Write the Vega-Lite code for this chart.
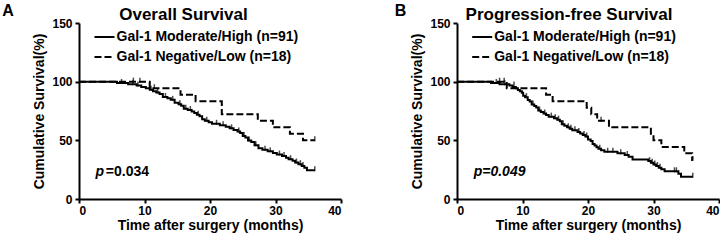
{
  "$schema": "https://vega.github.io/schema/vega-lite/v6.json",
  "padding": {"left": 2, "top": 3, "right": 0, "bottom": 2},
  "bounds": "flush",
  "spacing": 116,
  "background": "white",
  "config": {
    "view": {"stroke": null},
    "font": "Liberation Sans",
    "axis": {
      "domainColor": "black", "domainWidth": 2, "tickColor": "black", "tickWidth": 2, "tickSize": 4,
      "labelFont": "Liberation Sans", "labelFontSize": 12, "labelFontWeight": "bold", "labelColor": "black", "labelPadding": 2,
      "titleFont": "Liberation Sans", "titleFontSize": 14, "titleFontWeight": "bold", "titleColor": "black", "grid": false
    },
    "axisY": {"labelPadding": 3},
    "legend": {
      "labelFont": "Liberation Sans", "labelFontSize": 14, "labelFontWeight": "bold", "labelColor": "black", "labelLimit": 0
    }
  },
  "datasets": {
    "curvesA": [
      {"g": "Gal-1 Moderate/High (n=91)", "t": 0, "s": 100},
      {"g": "Gal-1 Moderate/High (n=91)", "t": 5.8, "s": 98.9},
      {"g": "Gal-1 Moderate/High (n=91)", "t": 7.5, "s": 97.8},
      {"g": "Gal-1 Moderate/High (n=91)", "t": 8.8, "s": 96.7},
      {"g": "Gal-1 Moderate/High (n=91)", "t": 9.5, "s": 95.5},
      {"g": "Gal-1 Moderate/High (n=91)", "t": 10.2, "s": 94.3},
      {"g": "Gal-1 Moderate/High (n=91)", "t": 10.8, "s": 93.1},
      {"g": "Gal-1 Moderate/High (n=91)", "t": 11.3, "s": 91.9},
      {"g": "Gal-1 Moderate/High (n=91)", "t": 11.8, "s": 90.7},
      {"g": "Gal-1 Moderate/High (n=91)", "t": 12.3, "s": 89.5},
      {"g": "Gal-1 Moderate/High (n=91)", "t": 12.8, "s": 87.0},
      {"g": "Gal-1 Moderate/High (n=91)", "t": 13.5, "s": 85.8},
      {"g": "Gal-1 Moderate/High (n=91)", "t": 14.0, "s": 84.5},
      {"g": "Gal-1 Moderate/High (n=91)", "t": 14.6, "s": 82.0},
      {"g": "Gal-1 Moderate/High (n=91)", "t": 15.2, "s": 80.8},
      {"g": "Gal-1 Moderate/High (n=91)", "t": 15.6, "s": 79.5},
      {"g": "Gal-1 Moderate/High (n=91)", "t": 16.0, "s": 77.0},
      {"g": "Gal-1 Moderate/High (n=91)", "t": 16.6, "s": 75.8},
      {"g": "Gal-1 Moderate/High (n=91)", "t": 17.2, "s": 74.5},
      {"g": "Gal-1 Moderate/High (n=91)", "t": 17.6, "s": 73.2},
      {"g": "Gal-1 Moderate/High (n=91)", "t": 18.0, "s": 71.9},
      {"g": "Gal-1 Moderate/High (n=91)", "t": 18.4, "s": 70.6},
      {"g": "Gal-1 Moderate/High (n=91)", "t": 18.8, "s": 68.0},
      {"g": "Gal-1 Moderate/High (n=91)", "t": 19.2, "s": 66.7},
      {"g": "Gal-1 Moderate/High (n=91)", "t": 19.8, "s": 65.4},
      {"g": "Gal-1 Moderate/High (n=91)", "t": 20.3, "s": 64.1},
      {"g": "Gal-1 Moderate/High (n=91)", "t": 21.5, "s": 62.8},
      {"g": "Gal-1 Moderate/High (n=91)", "t": 22.4, "s": 61.5},
      {"g": "Gal-1 Moderate/High (n=91)", "t": 23.0, "s": 60.2},
      {"g": "Gal-1 Moderate/High (n=91)", "t": 23.6, "s": 58.9},
      {"g": "Gal-1 Moderate/High (n=91)", "t": 24.2, "s": 57.6},
      {"g": "Gal-1 Moderate/High (n=91)", "t": 24.6, "s": 56.3},
      {"g": "Gal-1 Moderate/High (n=91)", "t": 25.0, "s": 53.7},
      {"g": "Gal-1 Moderate/High (n=91)", "t": 25.4, "s": 52.4},
      {"g": "Gal-1 Moderate/High (n=91)", "t": 25.8, "s": 49.8},
      {"g": "Gal-1 Moderate/High (n=91)", "t": 26.3, "s": 48.5},
      {"g": "Gal-1 Moderate/High (n=91)", "t": 26.8, "s": 45.9},
      {"g": "Gal-1 Moderate/High (n=91)", "t": 27.4, "s": 43.2},
      {"g": "Gal-1 Moderate/High (n=91)", "t": 28.0, "s": 41.9},
      {"g": "Gal-1 Moderate/High (n=91)", "t": 28.8, "s": 40.6},
      {"g": "Gal-1 Moderate/High (n=91)", "t": 29.6, "s": 39.3},
      {"g": "Gal-1 Moderate/High (n=91)", "t": 30.2, "s": 37.9},
      {"g": "Gal-1 Moderate/High (n=91)", "t": 31.0, "s": 36.6},
      {"g": "Gal-1 Moderate/High (n=91)", "t": 31.6, "s": 35.2},
      {"g": "Gal-1 Moderate/High (n=91)", "t": 32.0, "s": 33.9},
      {"g": "Gal-1 Moderate/High (n=91)", "t": 32.6, "s": 32.5},
      {"g": "Gal-1 Moderate/High (n=91)", "t": 33.0, "s": 31.1},
      {"g": "Gal-1 Moderate/High (n=91)", "t": 33.5, "s": 29.7},
      {"g": "Gal-1 Moderate/High (n=91)", "t": 34.0, "s": 28.2},
      {"g": "Gal-1 Moderate/High (n=91)", "t": 34.4, "s": 26.7},
      {"g": "Gal-1 Moderate/High (n=91)", "t": 34.8, "s": 24.4},
      {"g": "Gal-1 Moderate/High (n=91)", "t": 36.0, "s": 24.4},
      {"g": "Gal-1 Negative/Low (n=18)", "t": 0, "s": 100},
      {"g": "Gal-1 Negative/Low (n=18)", "t": 10.8, "s": 94.4},
      {"g": "Gal-1 Negative/Low (n=18)", "t": 15.5, "s": 88.9},
      {"g": "Gal-1 Negative/Low (n=18)", "t": 17.8, "s": 83.3},
      {"g": "Gal-1 Negative/Low (n=18)", "t": 21.8, "s": 72.2},
      {"g": "Gal-1 Negative/Low (n=18)", "t": 27.3, "s": 66.7},
      {"g": "Gal-1 Negative/Low (n=18)", "t": 29.6, "s": 61.1},
      {"g": "Gal-1 Negative/Low (n=18)", "t": 32.2, "s": 55.6},
      {"g": "Gal-1 Negative/Low (n=18)", "t": 34.2, "s": 50.0},
      {"g": "Gal-1 Negative/Low (n=18)", "t": 36.0, "s": 50.0}
    ],
    "censorA": [
      {"t": 6.5, "s": 98.9}, {"t": 8.2, "s": 97.8}, {"t": 9.0, "s": 96.7}, {"t": 11.0, "s": 93.1},
      {"t": 12.0, "s": 90.7}, {"t": 13.2, "s": 87.0}, {"t": 14.3, "s": 84.5}, {"t": 15.4, "s": 80.8},
      {"t": 16.3, "s": 77.0}, {"t": 17.0, "s": 75.8}, {"t": 18.2, "s": 71.9}, {"t": 19.5, "s": 66.7},
      {"t": 21.0, "s": 64.1}, {"t": 22.0, "s": 62.8}, {"t": 23.3, "s": 60.2}, {"t": 24.4, "s": 57.6},
      {"t": 25.2, "s": 53.7}, {"t": 26.0, "s": 49.8}, {"t": 27.0, "s": 45.9}, {"t": 28.4, "s": 41.9},
      {"t": 29.2, "s": 40.6}, {"t": 30.6, "s": 37.9}, {"t": 31.3, "s": 36.6}, {"t": 32.3, "s": 33.9},
      {"t": 33.2, "s": 31.1}, {"t": 33.8, "s": 29.7}, {"t": 34.2, "s": 28.2}, {"t": 36.0, "s": 24.4},
      {"t": 8.3, "s": 100}, {"t": 9.3, "s": 100}, {"t": 11.5, "s": 94.4}, {"t": 36.0, "s": 50.0}
    ],
    "curvesB": [
      {"g": "Gal-1 Moderate/High (n=91)", "t": 0, "s": 100},
      {"g": "Gal-1 Moderate/High (n=91)", "t": 5.2, "s": 98.9},
      {"g": "Gal-1 Moderate/High (n=91)", "t": 6.5, "s": 97.8},
      {"g": "Gal-1 Moderate/High (n=91)", "t": 8.0, "s": 96.7},
      {"g": "Gal-1 Moderate/High (n=91)", "t": 8.5, "s": 95.5},
      {"g": "Gal-1 Moderate/High (n=91)", "t": 9.0, "s": 94.3},
      {"g": "Gal-1 Moderate/High (n=91)", "t": 9.3, "s": 93.0},
      {"g": "Gal-1 Moderate/High (n=91)", "t": 9.6, "s": 91.8},
      {"g": "Gal-1 Moderate/High (n=91)", "t": 9.9, "s": 90.5},
      {"g": "Gal-1 Moderate/High (n=91)", "t": 10.1, "s": 88.0},
      {"g": "Gal-1 Moderate/High (n=91)", "t": 10.4, "s": 86.8},
      {"g": "Gal-1 Moderate/High (n=91)", "t": 10.8, "s": 84.3},
      {"g": "Gal-1 Moderate/High (n=91)", "t": 11.1, "s": 83.0},
      {"g": "Gal-1 Moderate/High (n=91)", "t": 11.4, "s": 80.5},
      {"g": "Gal-1 Moderate/High (n=91)", "t": 11.8, "s": 79.2},
      {"g": "Gal-1 Moderate/High (n=91)", "t": 12.1, "s": 77.9},
      {"g": "Gal-1 Moderate/High (n=91)", "t": 12.4, "s": 75.4},
      {"g": "Gal-1 Moderate/High (n=91)", "t": 12.8, "s": 74.1},
      {"g": "Gal-1 Moderate/High (n=91)", "t": 13.2, "s": 72.8},
      {"g": "Gal-1 Moderate/High (n=91)", "t": 13.6, "s": 71.5},
      {"g": "Gal-1 Moderate/High (n=91)", "t": 14.0, "s": 70.2},
      {"g": "Gal-1 Moderate/High (n=91)", "t": 14.8, "s": 68.9},
      {"g": "Gal-1 Moderate/High (n=91)", "t": 15.3, "s": 67.6},
      {"g": "Gal-1 Moderate/High (n=91)", "t": 15.7, "s": 66.3},
      {"g": "Gal-1 Moderate/High (n=91)", "t": 16.0, "s": 63.7},
      {"g": "Gal-1 Moderate/High (n=91)", "t": 16.4, "s": 62.4},
      {"g": "Gal-1 Moderate/High (n=91)", "t": 16.8, "s": 61.1},
      {"g": "Gal-1 Moderate/High (n=91)", "t": 17.2, "s": 59.8},
      {"g": "Gal-1 Moderate/High (n=91)", "t": 17.6, "s": 58.5},
      {"g": "Gal-1 Moderate/High (n=91)", "t": 18.4, "s": 57.2},
      {"g": "Gal-1 Moderate/High (n=91)", "t": 18.8, "s": 55.9},
      {"g": "Gal-1 Moderate/High (n=91)", "t": 19.2, "s": 54.6},
      {"g": "Gal-1 Moderate/High (n=91)", "t": 19.6, "s": 53.3},
      {"g": "Gal-1 Moderate/High (n=91)", "t": 20.0, "s": 50.7},
      {"g": "Gal-1 Moderate/High (n=91)", "t": 20.4, "s": 49.4},
      {"g": "Gal-1 Moderate/High (n=91)", "t": 20.7, "s": 46.8},
      {"g": "Gal-1 Moderate/High (n=91)", "t": 21.0, "s": 45.5},
      {"g": "Gal-1 Moderate/High (n=91)", "t": 21.3, "s": 44.2},
      {"g": "Gal-1 Moderate/High (n=91)", "t": 21.6, "s": 42.9},
      {"g": "Gal-1 Moderate/High (n=91)", "t": 22.0, "s": 41.6},
      {"g": "Gal-1 Moderate/High (n=91)", "t": 22.5, "s": 40.3},
      {"g": "Gal-1 Moderate/High (n=91)", "t": 24.5, "s": 38.9},
      {"g": "Gal-1 Moderate/High (n=91)", "t": 25.6, "s": 37.5},
      {"g": "Gal-1 Moderate/High (n=91)", "t": 26.2, "s": 36.1},
      {"g": "Gal-1 Moderate/High (n=91)", "t": 26.8, "s": 33.7},
      {"g": "Gal-1 Moderate/High (n=91)", "t": 29.2, "s": 32.3},
      {"g": "Gal-1 Moderate/High (n=91)", "t": 29.6, "s": 30.9},
      {"g": "Gal-1 Moderate/High (n=91)", "t": 30.0, "s": 29.5},
      {"g": "Gal-1 Moderate/High (n=91)", "t": 30.4, "s": 28.1},
      {"g": "Gal-1 Moderate/High (n=91)", "t": 30.8, "s": 26.7},
      {"g": "Gal-1 Moderate/High (n=91)", "t": 31.2, "s": 25.3},
      {"g": "Gal-1 Moderate/High (n=91)", "t": 31.7, "s": 23.6},
      {"g": "Gal-1 Moderate/High (n=91)", "t": 33.8, "s": 21.6},
      {"g": "Gal-1 Moderate/High (n=91)", "t": 34.2, "s": 18.9},
      {"g": "Gal-1 Moderate/High (n=91)", "t": 36.0, "s": 18.9},
      {"g": "Gal-1 Negative/Low (n=18)", "t": 0, "s": 100},
      {"g": "Gal-1 Negative/Low (n=18)", "t": 7.6, "s": 94.4},
      {"g": "Gal-1 Negative/Low (n=18)", "t": 13.6, "s": 88.9},
      {"g": "Gal-1 Negative/Low (n=18)", "t": 14.6, "s": 83.3},
      {"g": "Gal-1 Negative/Low (n=18)", "t": 19.8, "s": 77.8},
      {"g": "Gal-1 Negative/Low (n=18)", "t": 20.5, "s": 72.2},
      {"g": "Gal-1 Negative/Low (n=18)", "t": 21.4, "s": 66.7},
      {"g": "Gal-1 Negative/Low (n=18)", "t": 23.2, "s": 61.1},
      {"g": "Gal-1 Negative/Low (n=18)", "t": 29.6, "s": 55.6},
      {"g": "Gal-1 Negative/Low (n=18)", "t": 30.0, "s": 50.0},
      {"g": "Gal-1 Negative/Low (n=18)", "t": 31.2, "s": 44.4},
      {"g": "Gal-1 Negative/Low (n=18)", "t": 34.7, "s": 38.9},
      {"g": "Gal-1 Negative/Low (n=18)", "t": 35.9, "s": 33.3},
      {"g": "Gal-1 Negative/Low (n=18)", "t": 36.0, "s": 33.3}
    ],
    "censorB": [
      {"t": 6.0, "s": 98.9}, {"t": 7.3, "s": 97.8}, {"t": 8.7, "s": 96.7}, {"t": 10.6, "s": 86.8},
      {"t": 11.6, "s": 80.5}, {"t": 12.6, "s": 75.4}, {"t": 13.4, "s": 72.8}, {"t": 14.4, "s": 70.2},
      {"t": 15.0, "s": 68.9}, {"t": 15.5, "s": 67.6}, {"t": 16.2, "s": 63.7}, {"t": 17.0, "s": 61.1},
      {"t": 17.4, "s": 59.8}, {"t": 18.0, "s": 58.5}, {"t": 18.6, "s": 57.2}, {"t": 19.4, "s": 54.6},
      {"t": 19.8, "s": 53.3}, {"t": 21.8, "s": 42.9}, {"t": 23.0, "s": 40.3}, {"t": 23.8, "s": 40.3},
      {"t": 25.0, "s": 38.9}, {"t": 26.0, "s": 37.5}, {"t": 29.4, "s": 32.3}, {"t": 29.8, "s": 30.9},
      {"t": 30.2, "s": 29.5}, {"t": 30.6, "s": 28.1}, {"t": 31.0, "s": 26.7}, {"t": 33.2, "s": 23.6},
      {"t": 33.5, "s": 23.6}, {"t": 36.0, "s": 18.9},
      {"t": 6.5, "s": 100}, {"t": 7.2, "s": 100}, {"t": 22.0, "s": 66.7}, {"t": 36.0, "s": 33.3}
    ]
  },
  "hconcat": [
    {
      "width": 262, "height": 176,
      "layer": [
        {
          "data": {"name": "curvesA"},
          "mark": {"type": "line", "interpolate": "step-after", "strokeWidth": 2, "color": "black"},
          "encoding": {
            "x": {"field": "t", "type": "quantitative", "scale": {"domain": [0, 40], "nice": false}, "axis": {"values": [0, 10, 20, 30, 40], "title": "Time after surgery (months)", "titlePadding": 2}},
            "y": {"field": "s", "type": "quantitative", "scale": {"domain": [0, 150], "nice": false}, "axis": {"values": [0, 50, 100, 150], "title": "Cumulative Survival(%)", "titlePadding": 5}},
            "strokeDash": {"field": "g", "type": "nominal", "scale": {"domain": ["Gal-1 Moderate/High (n=91)", "Gal-1 Negative/Low (n=18)"], "range": [[1, 0], [7, 3]]},
              "legend": {"title": null, "orient": "none", "legendX": 14.5, "legendY": 3, "symbolType": "stroke", "symbolSize": 400, "symbolStrokeWidth": 2, "symbolStrokeColor": "black", "labelOffset": 1, "rowPadding": 2}}
          }
        },
        {
          "data": {"name": "censorA"},
          "mark": {"type": "tick", "orient": "vertical", "size": 5, "thickness": 1.5, "color": "black", "yOffset": -1.5},
          "encoding": {"x": {"field": "t", "type": "quantitative"}, "y": {"field": "s", "type": "quantitative"}}
        },
        {
          "data": {"values": [{"t": -11.7, "s": 155.7, "label": "A"}]},
          "mark": {"type": "text", "align": "left", "baseline": "alphabetic", "fontSize": 16, "fontWeight": "bold", "color": "black"},
          "encoding": {"x": {"field": "t", "type": "quantitative"}, "y": {"field": "s", "type": "quantitative"}, "text": {"field": "label"}}
        },
        {
          "data": {"values": [{"t": 15.95, "s": 152.8, "label": "Overall Survival"}]},
          "mark": {"type": "text", "align": "center", "baseline": "alphabetic", "fontSize": 17, "fontWeight": "bold", "color": "black"},
          "encoding": {"x": {"field": "t", "type": "quantitative"}, "y": {"field": "s", "type": "quantitative"}, "text": {"field": "label"}}
        },
        {
          "data": {"values": [{"t": 2.5, "s": 19.3, "label": "p"}]},
          "mark": {"type": "text", "align": "left", "baseline": "alphabetic", "fontSize": 14, "fontWeight": "bold", "fontStyle": "italic", "color": "black"},
          "encoding": {"x": {"field": "t", "type": "quantitative"}, "y": {"field": "s", "type": "quantitative"}, "text": {"field": "label"}}
        },
        {
          "data": {"values": [{"t": 4.1, "s": 19.3, "label": "=0.034"}]},
          "mark": {"type": "text", "align": "left", "baseline": "alphabetic", "fontSize": 14, "fontWeight": "bold", "color": "black"},
          "encoding": {"x": {"field": "t", "type": "quantitative"}, "y": {"field": "s", "type": "quantitative"}, "text": {"field": "label"}}
        }
      ]
    },
    {
      "width": 262, "height": 176,
      "layer": [
        {
          "data": {"name": "curvesB"},
          "mark": {"type": "line", "interpolate": "step-after", "strokeWidth": 2, "color": "black"},
          "encoding": {
            "x": {"field": "t", "type": "quantitative", "scale": {"domain": [0, 40], "nice": false}, "axis": {"values": [0, 10, 20, 30, 40], "title": "Time after surgery (months)", "titlePadding": 2}},
            "y": {"field": "s", "type": "quantitative", "scale": {"domain": [0, 150], "nice": false}, "axis": {"values": [0, 50, 100, 150], "title": "Cumulative Survival(%)", "titlePadding": 5}},
            "strokeDash": {"field": "g", "type": "nominal", "scale": {"domain": ["Gal-1 Moderate/High (n=91)", "Gal-1 Negative/Low (n=18)"], "range": [[1, 0], [7, 3]]},
              "legend": {"title": null, "orient": "none", "legendX": 14.2, "legendY": 3, "symbolType": "stroke", "symbolSize": 400, "symbolStrokeWidth": 2, "symbolStrokeColor": "black", "labelOffset": 1, "rowPadding": 2}}
          }
        },
        {
          "data": {"name": "censorB"},
          "mark": {"type": "tick", "orient": "vertical", "size": 5, "thickness": 1.5, "color": "black", "yOffset": -1.5},
          "encoding": {"x": {"field": "t", "type": "quantitative"}, "y": {"field": "s", "type": "quantitative"}}
        },
        {
          "data": {"values": [{"t": -9.5, "s": 155.7, "label": "B"}]},
          "mark": {"type": "text", "align": "left", "baseline": "alphabetic", "fontSize": 16, "fontWeight": "bold", "color": "black"},
          "encoding": {"x": {"field": "t", "type": "quantitative"}, "y": {"field": "s", "type": "quantitative"}, "text": {"field": "label"}}
        },
        {
          "data": {"values": [{"t": 17.1, "s": 152.8, "label": "Progression-free Survival"}]},
          "mark": {"type": "text", "align": "center", "baseline": "alphabetic", "fontSize": 17, "fontWeight": "bold", "color": "black"},
          "encoding": {"x": {"field": "t", "type": "quantitative"}, "y": {"field": "s", "type": "quantitative"}, "text": {"field": "label"}}
        },
        {
          "data": {"values": [{"t": 2.55, "s": 19.3, "label": "p=0.049"}]},
          "mark": {"type": "text", "align": "left", "baseline": "alphabetic", "fontSize": 14, "fontWeight": "bold", "fontStyle": "italic", "color": "black"},
          "encoding": {"x": {"field": "t", "type": "quantitative"}, "y": {"field": "s", "type": "quantitative"}, "text": {"field": "label"}}
        }
      ]
    }
  ],
  "resolve": {"legend": {"strokeDash": "independent"}}
}
